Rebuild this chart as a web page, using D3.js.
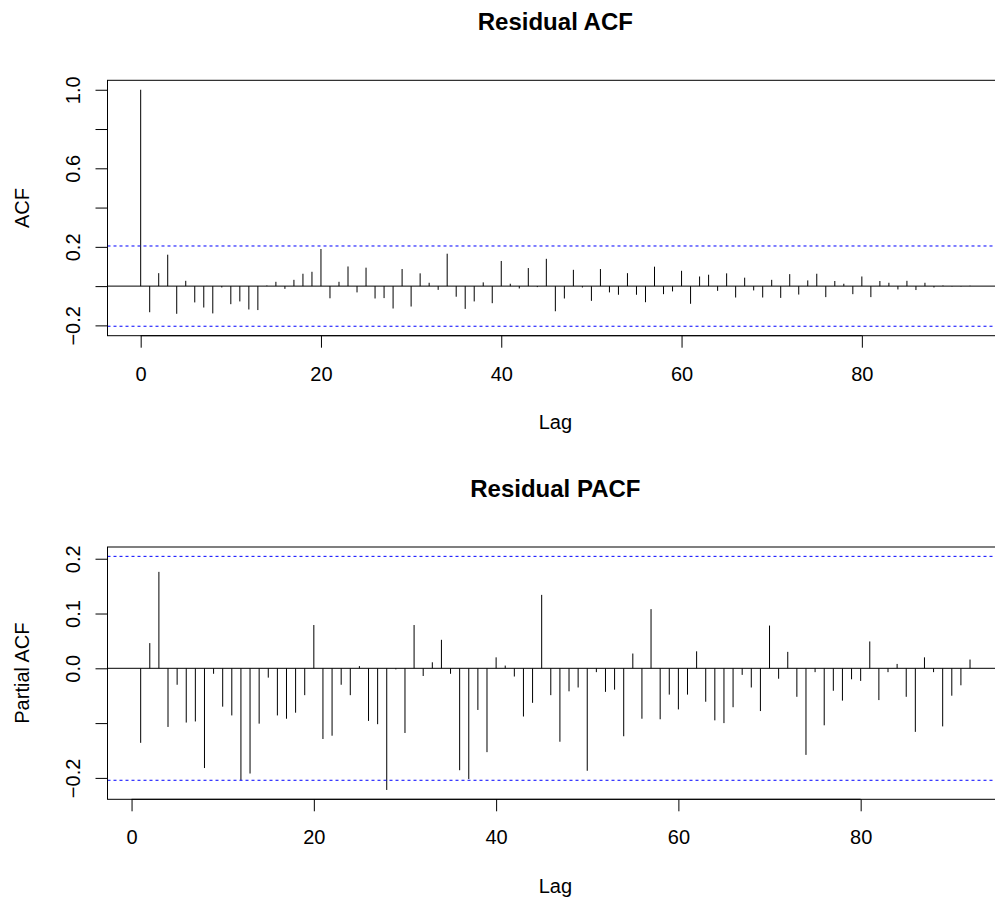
<!DOCTYPE html>
<html>
<head>
<meta charset="utf-8">
<script src="https://cdn.jsdelivr.net/npm/d3@7"></script>
<style>
  html, body { margin: 0; padding: 0; background: #fff; }
  svg { display: block; }
  text { font-family: "Liberation Sans", Arial, Helvetica, sans-serif; fill: #000; }
</style>
</head>
<body>
<svg id="chart" width="995" height="902"></svg>
<script>
// ---------------- DATA ----------------
const nObs = 92;                        // series length -> confidence bound
const acfLags = d3.range(0, 93);        // lags 0..92
const acfValues = [
  1.000, -0.133, 0.066, 0.160, -0.141, 0.027, -0.083, -0.109, -0.139, -0.007,
  -0.092, -0.078, -0.119, -0.122, 0.003, 0.022, -0.014, 0.032, 0.063, 0.073,
  0.189, -0.062, 0.022, 0.100, -0.032, 0.094, -0.063, -0.061, -0.114, 0.087,
  -0.104, 0.065, 0.017, -0.019, 0.165, -0.054, -0.116, -0.078, 0.019, -0.087,
  0.128, 0.012, -0.012, 0.092, -0.005, 0.139, -0.128, -0.063, 0.083, -0.007,
  -0.075, 0.087, -0.032, -0.044, 0.066, -0.044, -0.082, 0.099, -0.041, -0.027,
  0.078, -0.090, 0.049, 0.058, -0.024, 0.065, -0.058, 0.043, -0.022, -0.058,
  0.032, -0.060, 0.061, -0.043, 0.029, 0.063, -0.056, 0.026, 0.012, -0.041,
  0.049, -0.056, 0.026, 0.017, -0.017, 0.027, -0.020, 0.017, -0.007, 0.003,
  -0.002, -0.002, 0.002
];
const pacfLags = d3.range(1, 93);       // lags 1..92
const pacfValues = [
  -0.136, 0.046, 0.176, -0.107, -0.030, -0.099, -0.097, -0.182, -0.010, -0.070,
  -0.086, -0.204, -0.192, -0.101, -0.017, -0.086, -0.092, -0.081, -0.049, 0.079,
  -0.129, -0.123, -0.030, -0.049, 0.004, -0.096, -0.102, -0.222, -0.002, -0.118,
  0.079, -0.014, 0.011, 0.052, -0.010, -0.186, -0.202, -0.076, -0.153, 0.020,
  0.005, -0.015, -0.088, -0.063, 0.134, -0.049, -0.134, -0.042, -0.035, -0.187,
  -0.007, -0.043, -0.039, -0.124, 0.027, -0.092, 0.108, -0.093, -0.048, -0.075,
  -0.048, 0.031, -0.061, -0.095, -0.100, -0.071, -0.012, -0.035, -0.078, 0.078,
  -0.019, 0.030, -0.052, -0.158, -0.007, -0.104, -0.041, -0.059, -0.020, -0.023,
  0.049, -0.058, -0.007, 0.008, -0.052, -0.116, 0.020, -0.007, -0.106, -0.050,
  -0.031, 0.016
];
const xTicks = [0, 20, 40, 60, 80];
const acfYTicks = [-0.2, 0.0, 0.2, 0.4, 0.6, 0.8, 1.0];
const acfYTickLabels = ["\u22120.2", "", "0.2", "", "0.6", "", "1.0"];
const pacfYTicks = [-0.2, -0.1, 0.0, 0.1, 0.2];
const pacfYTickLabels = ["\u22120.2", "", "0.0", "0.1", "0.2"];
const titles = ["Residual ACF", "Residual PACF"];
const yLabels = ["ACF", "Partial ACF"];
const xLabel = "Lag";

// ---------------- LAYOUT ----------------
const clim = 1.959964 / Math.sqrt(nObs);
const svg = d3.select("#chart");
svg.append("rect").attr("width", 995).attr("height", 902).attr("fill", "#fff");

const plotLeft = 107.5, plotRight = 1003.2;
const labelSize = 20, titleSize = 24;

function rRange(vals) {           // R-style axis range: extend by 4%
  const lo = d3.min(vals), hi = d3.max(vals), d = hi - lo;
  return [lo - 0.04 * d, hi + 0.04 * d];
}

function panel(opts) {
  const { lags, values, top, bottom, yTicks, yTickLabels, title, ylab } = opts;
  const g = svg.append("g");
  const x = d3.scaleLinear().domain(rRange(lags)).range([plotLeft, plotRight]);
  const y = d3.scaleLinear().domain(rRange(values.concat([clim, -clim]))).range([bottom, top]);

  // clip for plot region
  const cid = "clip" + Math.round(top);
  svg.append("clipPath").attr("id", cid).append("rect")
    .attr("x", plotLeft).attr("y", top).attr("width", plotRight - plotLeft).attr("height", bottom - top);
  const pg = g.append("g").attr("clip-path", `url(#${cid})`);

  // spikes
  pg.selectAll("line.spike").data(lags.map((l, i) => [l, values[i]])).join("line")
    .attr("class", "spike")
    .attr("x1", d => x(d[0])).attr("x2", d => x(d[0]))
    .attr("y1", y(0)).attr("y2", d => y(d[1]))
    .attr("stroke", "#000").attr("stroke-width", 1);
  // zero line
  pg.append("line").attr("x1", plotLeft).attr("x2", plotRight)
    .attr("y1", y(0)).attr("y2", y(0)).attr("stroke", "#000").attr("stroke-width", 1);
  // confidence bounds
  [clim, -clim].forEach(c => {
    pg.append("line").attr("x1", plotLeft).attr("x2", plotRight)
      .attr("y1", y(c)).attr("y2", y(c))
      .attr("stroke", "#0000ff").attr("stroke-width", 1).attr("stroke-dasharray", "3,3");
  });

  // box
  g.append("rect").attr("x", plotLeft).attr("y", top)
    .attr("width", plotRight - plotLeft).attr("height", bottom - top)
    .attr("fill", "none").attr("stroke", "#000").attr("stroke-width", 1);

  // x axis
  const xa = d3.axisBottom(x).tickValues(xTicks).tickSize(12).tickPadding(12).tickFormat(d3.format("d"));
  const xg = g.append("g").attr("transform", `translate(0,${bottom})`).call(xa);
  xg.select(".domain").attr("d", `M${x(xTicks[0])},0H${x(xTicks[xTicks.length - 1])}`);
  xg.selectAll("text").attr("font-size", labelSize).attr("font-family", null).attr("dy", null)
    .attr("y", 45).attr("fill", "#000");

  // y axis
  const ya = d3.axisLeft(y).tickValues(yTicks).tickSize(12).tickFormat((d, i) => yTickLabels[i]);
  const yg = g.append("g").attr("transform", `translate(${plotLeft},0)`).call(ya);
  yg.select(".domain").attr("d", `M0,${y(yTicks[0])}V${y(yTicks[yTicks.length - 1])}`);
  yg.selectAll("text")
    .attr("x", null).attr("dy", null).attr("font-family", null)
    .attr("font-size", labelSize).attr("text-anchor", "middle").attr("fill", "#000")
    .attr("transform", `translate(${79.5 - plotLeft},0) rotate(-90)`);
  g.selectAll(".domain, .tick line").attr("stroke", "#000");

  // labels
  svg.append("text").attr("x", (plotLeft + plotRight) / 2 + 0).attr("y", top - 50.3)
    .attr("text-anchor", "middle").attr("font-size", titleSize).attr("font-weight", "bold").text(title);
  svg.append("text").attr("x", (plotLeft + plotRight) / 2).attr("y", bottom + 93.6)
    .attr("text-anchor", "middle").attr("font-size", labelSize).text(xLabel);
  svg.append("text").attr("transform", `translate(28.5,${(top + bottom) / 2}) rotate(-90)`)
    .attr("text-anchor", "middle").attr("font-size", labelSize).text(ylab);
}

panel({ lags: acfLags, values: acfValues, top: 80.3, bottom: 335.7,
        yTicks: acfYTicks, yTickLabels: acfYTickLabels, title: titles[0], ylab: yLabels[0] });
panel({ lags: pacfLags, values: pacfValues, top: 547, bottom: 799.3,
        yTicks: pacfYTicks, yTickLabels: pacfYTickLabels, title: titles[1], ylab: yLabels[1] });
</script>
</body>
</html>
